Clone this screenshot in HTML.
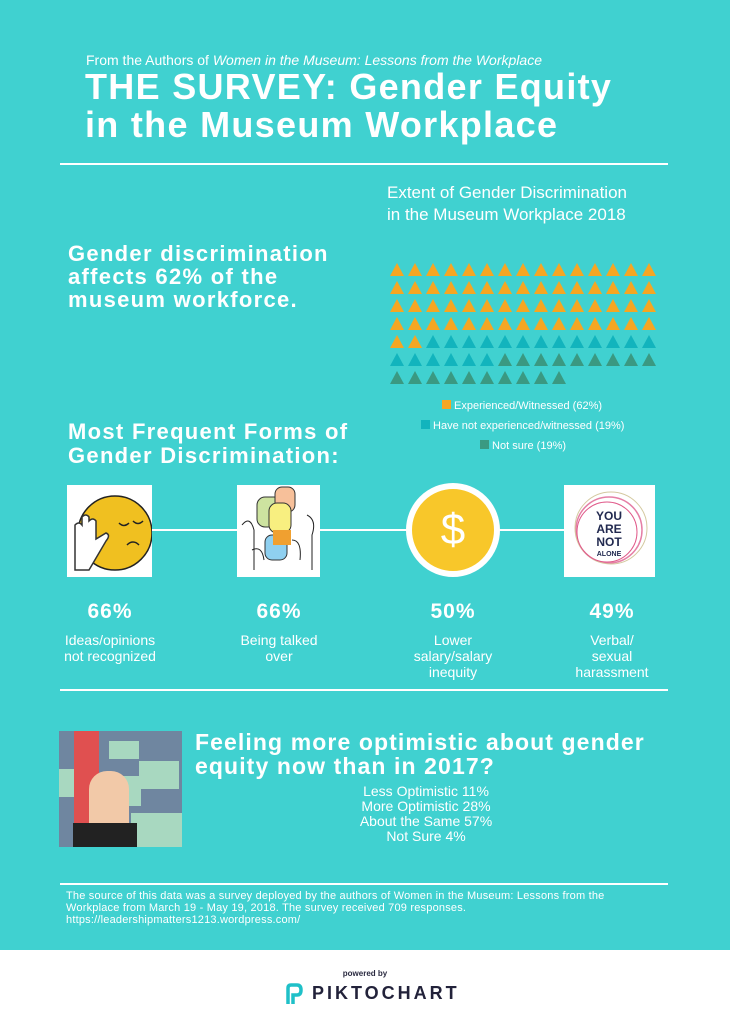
<!DOCTYPE html>
<html><head><meta charset="utf-8"><style>
body{margin:0;width:730px;height:1024px;background:#40d1d0;font-family:"Liberation Sans",sans-serif;color:#fff;position:relative;overflow:hidden}
.a{position:absolute;white-space:nowrap}
.b{font-weight:bold}
.hr{position:absolute;background:#fff;height:2px}
.c{text-align:center;transform:translateX(-50%)}
</style></head><body>
<div class="a" style="left:86px;top:52px;font-size:14px">From the Authors of <i>Women in the Museum: Lessons from the Workplace</i></div>
<div class="a b" style="left:85px;top:68px;font-size:36px;line-height:38px;letter-spacing:1.3px">THE SURVEY: Gender Equity<br>in the Museum Workplace</div>
<div class="hr" style="left:60px;top:163px;width:608px"></div>
<div class="a" style="left:387px;top:182px;font-size:17px;line-height:22px">Extent of Gender Discrimination<br>in the Museum Workplace 2018</div>
<div class="a b" style="left:68px;top:242px;font-size:22px;line-height:23px;letter-spacing:1.3px">Gender discrimination<br>affects 62% of the<br>museum workforce.</div>
<svg class="a" style="left:0;top:0" width="730" height="460" id="g"></svg>
<div class="a" style="left:442px;top:396px;font-size:11px;line-height:20px">
<span style="display:inline-block;width:9px;height:9px;background:#f5a623"></span> Experienced/Witnessed (62%)</div>
<div class="a" style="left:421px;top:416px;font-size:11px;line-height:20px">
<span style="display:inline-block;width:9px;height:9px;background:#12b4bd"></span> Have not experienced/witnessed (19%)</div>
<div class="a" style="left:480px;top:436px;font-size:11px;line-height:20px">
<span style="display:inline-block;width:9px;height:9px;background:#3a9982"></span> Not sure (19%)</div>
<div class="a b" style="left:68px;top:420px;font-size:22px;line-height:24px;letter-spacing:1.3px">Most Frequent Forms of<br>Gender Discrimination:</div>
<div class="hr" style="left:110px;top:529px;width:500px"></div>
<div class="a" style="left:67px;top:485px;width:85px;height:92px;background:#fff">
<svg width="85" height="92"><circle cx="48" cy="48" r="37" fill="#f0c020" stroke="#222" stroke-width="1.5"/><path d="M52 38q5 5 10 0M66 36q5 5 10 0M60 60q6-6 12 0" stroke="#222" fill="none" stroke-width="1.5"/><path d="M8 85V40q4-4 7 0v-8q4-4 7 0v4q4-4 7 0v18l10-6q5 2 0 8L22 85z" fill="#fff" stroke="#333" stroke-width="1.5"/></svg></div>
<div class="a" style="left:237px;top:485px;width:83px;height:92px;background:#fff">
<svg width="83" height="92"><rect x="20" y="12" width="25" height="30" rx="8" fill="#cde3a0" stroke="#333"/><rect x="38" y="2" width="20" height="25" rx="7" fill="#f7c09a" stroke="#333"/><rect x="32" y="18" width="22" height="30" rx="8" fill="#f8ef80" stroke="#333"/><rect x="28" y="50" width="22" height="25" rx="7" fill="#8fd0f0" stroke="#333"/><rect x="36" y="45" width="18" height="15" fill="#f0a030"/><path d="M5 40q8-10 12 5v40M70 30q10 5 5 20v35M15 65q10-5 12 10M55 55q10 0 8 20" stroke="#222" fill="none"/></svg></div>
<div class="a" style="left:406px;top:483px;width:82px;height:82px;border:6px solid #fff;border-radius:50%;background:#f8c72a;font-size:44px;line-height:82px;text-align:center">$</div>
<div class="a" style="left:564px;top:485px;width:91px;height:92px;background:#fff">
<svg width="91" height="92"><circle cx="45" cy="45" r="33" fill="none" stroke="#e57fa6" stroke-width="1.5"/><circle cx="47" cy="43" r="36" fill="none" stroke="#d4c9a0" stroke-width="1"/><circle cx="43" cy="47" r="30" fill="none" stroke="#e05a8a" stroke-width="1"/><text x="45" y="35" font-family="Liberation Sans" font-weight="bold" font-size="12" fill="#222a50" text-anchor="middle">YOU</text><text x="45" y="48" font-family="Liberation Sans" font-weight="bold" font-size="12" fill="#222a50" text-anchor="middle">ARE</text><text x="45" y="61" font-family="Liberation Sans" font-weight="bold" font-size="12" fill="#222a50" text-anchor="middle">NOT</text><text x="45" y="71" font-family="Liberation Sans" font-weight="bold" font-size="7" fill="#222a50" text-anchor="middle">ALONE</text></svg></div>
<div class="a b c" style="left:110px;top:600px;font-size:21px;letter-spacing:1px">66%</div>
<div class="a b c" style="left:279px;top:600px;font-size:21px;letter-spacing:1px">66%</div>
<div class="a b c" style="left:453px;top:600px;font-size:21px;letter-spacing:1px">50%</div>
<div class="a b c" style="left:612px;top:600px;font-size:21px;letter-spacing:1px">49%</div>
<div class="a c" style="left:110px;top:632px;font-size:14px;line-height:16px">Ideas/opinions<br>not recognized</div>
<div class="a c" style="left:279px;top:632px;font-size:14px;line-height:16px">Being talked<br>over</div>
<div class="a c" style="left:453px;top:632px;font-size:14px;line-height:16px">Lower<br>salary/salary<br>inequity</div>
<div class="a c" style="left:612px;top:632px;font-size:14px;line-height:16px">Verbal/<br>sexual<br>harassment</div>
<div class="hr" style="left:60px;top:689px;width:608px"></div>
<div class="a" style="left:59px;top:731px;width:123px;height:116px;background:#6f86a0;overflow:hidden">
<div style="position:absolute;left:50px;top:10px;width:30px;height:18px;background:#a8d8c0"></div>
<div style="position:absolute;left:80px;top:30px;width:40px;height:28px;background:#a8d8c0"></div>
<div style="position:absolute;left:0;top:38px;width:20px;height:28px;background:#a8d8c0"></div>
<div style="position:absolute;left:50px;top:45px;width:32px;height:30px;background:#a8d8c0"></div>
<div style="position:absolute;left:72px;top:82px;width:51px;height:34px;background:#a8d8c0"></div>
<div style="position:absolute;left:15px;top:0;width:25px;height:116px;background:#e05050"></div>
<div style="position:absolute;left:30px;top:40px;width:40px;height:76px;background:#f2c9a8;border-radius:18px 18px 0 0"></div>
<div style="position:absolute;left:14px;top:92px;width:64px;height:24px;background:#222"></div></div>
<div class="a b" style="left:195px;top:730px;font-size:23px;line-height:24px;letter-spacing:1.1px">Feeling more optimistic about gender<br>equity now than in 2017?</div>
<div class="a c" style="left:426px;top:784px;font-size:14px;line-height:15px">Less Optimistic 11%<br>More Optimistic 28%<br>About the Same 57%<br>Not Sure 4%</div>
<div class="hr" style="left:60px;top:883px;width:608px"></div>
<div class="a" style="left:66px;top:890px;font-size:11px;line-height:12px;letter-spacing:0.2px">The source of this data was a survey deployed by the authors of Women in the Museum: Lessons from the<br>Workplace from March 19 - May 19, 2018. The survey received 709 responses.<br>https://leadershipmatters1213.wordpress.com/</div>
<div class="a" style="left:0;top:950px;width:730px;height:74px;background:#fff"></div>
<div class="a c b" style="left:365px;top:969px;font-size:8px;color:#2a2a40">powered by</div>
<div class="a b" style="left:312px;top:983px;font-size:18px;color:#22223a;letter-spacing:3px">PIKTOCHART</div>
<svg class="a" style="left:284px;top:982px" width="20" height="24"><path d="M4 22V6q0-3 3-3h6q4 0 4 5t-4 5H9v9" stroke="#1fc0c8" stroke-width="3.5" fill="none"/></svg>
<script>
var s=document.getElementById('g'),h='';
for(var i=0;i<100;i++){var r=Math.floor(i/15),c=i%15,x=390+c*18,y=263+r*18;
var col=i<62?'#f5a623':(i<81?'#12b4bd':'#3a9982');
h+='<polygon points="'+(x+7)+','+y+' '+(x+14)+','+(y+13)+' '+x+','+(y+13)+'" fill="'+col+'"/>';}
s.innerHTML=h;
</script>
</body></html>
